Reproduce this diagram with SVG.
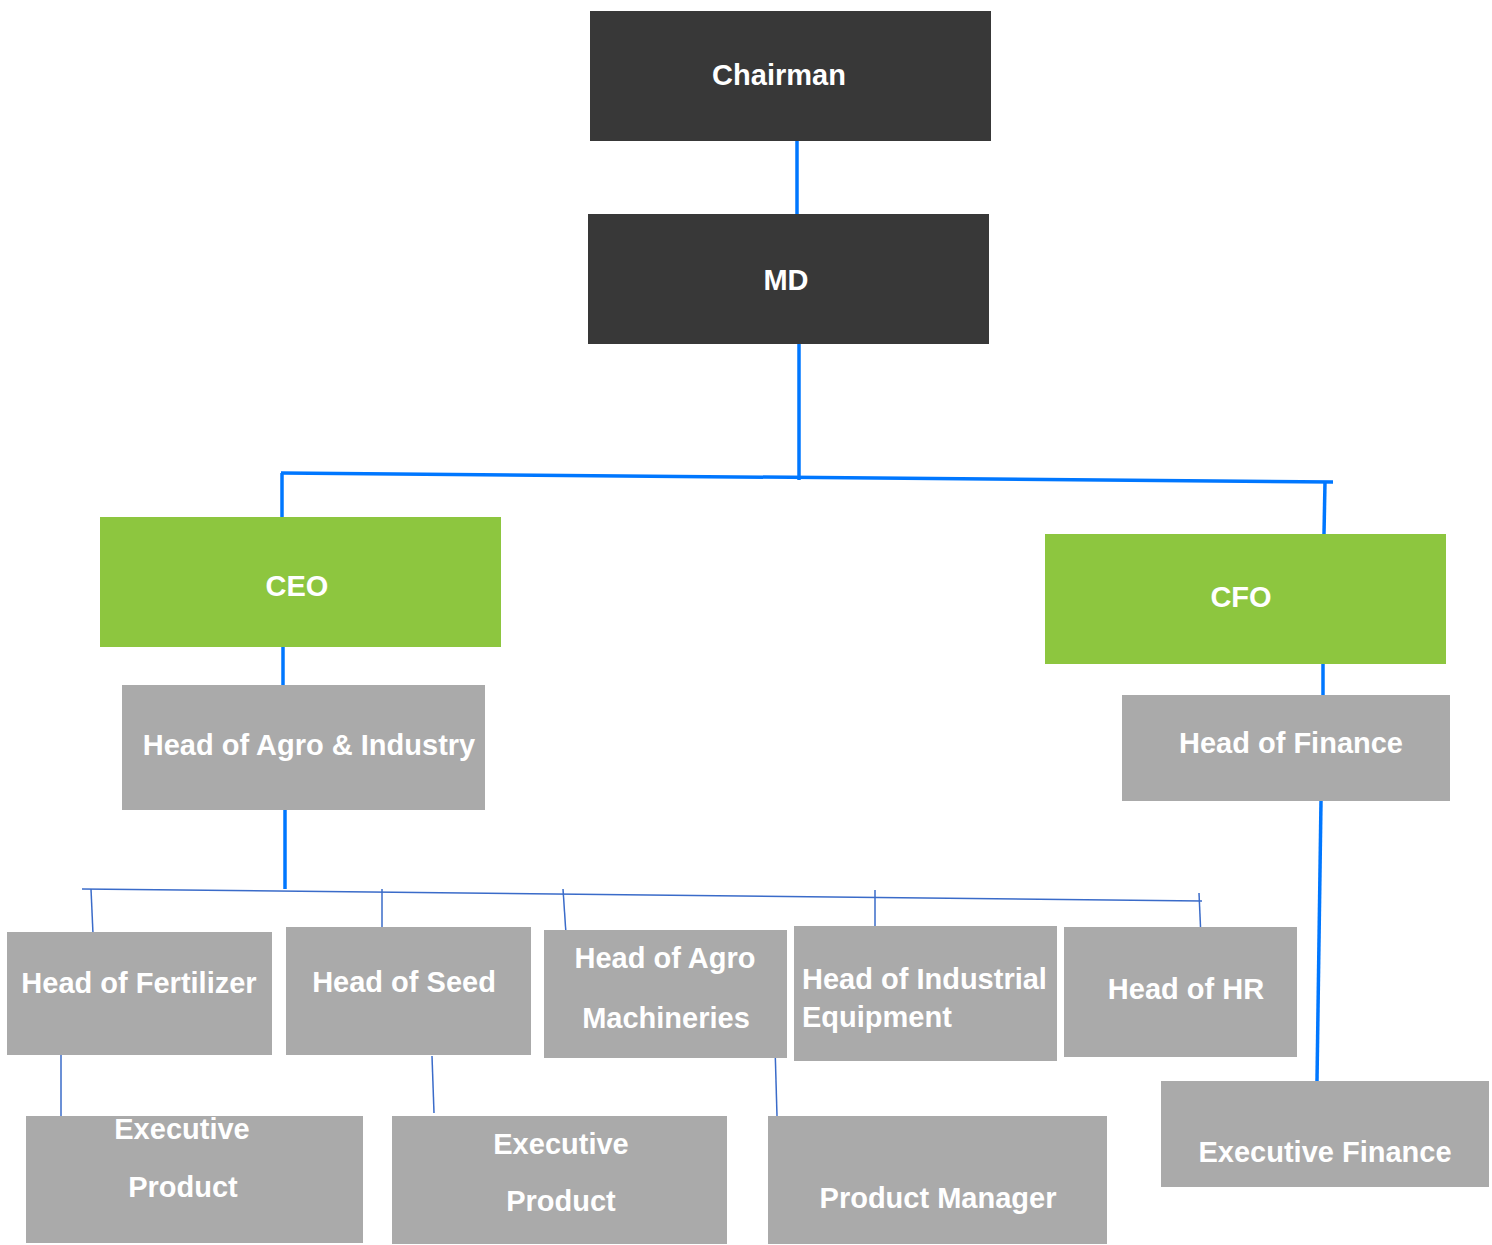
<svg xmlns="http://www.w3.org/2000/svg" width="1492" height="1245" viewBox="0 0 1492 1245">
<style>
.dark{fill:#383838}
.green{fill:#8dc63f}
.gray{fill:#aaaaaa}
text{font-family:"Liberation Sans",Arial,sans-serif;font-weight:bold;font-size:29px;fill:#ffffff;text-anchor:middle}
.left{text-anchor:start}
.thick{stroke:#0077ff;stroke-width:3.5;fill:none}
.thin{stroke:#3a6bc9;stroke-width:1.5;fill:none}
</style>
<rect width="1492" height="1245" fill="#ffffff"/>
<g id="connectors">
<line class="thick" x1="797" y1="141" x2="797" y2="214"/>
<line class="thick" x1="799" y1="344" x2="799" y2="480"/>
<line class="thick" x1="281" y1="473" x2="1333" y2="482" stroke-width="4"/>
<line class="thick" x1="282" y1="473" x2="282" y2="517"/>
<line class="thick" x1="1325" y1="482" x2="1324" y2="534"/>
<line class="thick" x1="283" y1="647" x2="283" y2="685"/>
<line class="thick" x1="1323" y1="664" x2="1323" y2="695"/>
<line class="thick" x1="1321" y1="801" x2="1317" y2="1081"/>
<line class="thick" x1="285" y1="810" x2="285" y2="889"/>
<line class="thin" x1="82" y1="889" x2="1202" y2="901"/>
<line class="thin" x1="91" y1="889" x2="93" y2="934"/>
<line class="thin" x1="382" y1="889" x2="382" y2="932"/>
<line class="thin" x1="563" y1="889" x2="566" y2="934"/>
<line class="thin" x1="875" y1="890" x2="875" y2="939"/>
<line class="thin" x1="1199" y1="893" x2="1201" y2="938"/>
<line class="thin" x1="61" y1="1050" x2="61" y2="1116"/>
<line class="thin" x1="432" y1="1056" x2="434" y2="1113"/>
<line class="thin" x1="775" y1="1046" x2="777" y2="1116"/>
</g>
<g id="chairman"><rect class="dark" x="590" y="11" width="401" height="130"/><text x="779" y="85">Chairman</text></g>
<g id="md"><rect class="dark" x="588" y="214" width="401" height="130"/><text x="786" y="290">MD</text></g>
<g id="ceo"><rect class="green" x="100" y="517" width="401" height="130"/><text x="297" y="596">CEO</text></g>
<g id="cfo"><rect class="green" x="1045" y="534" width="401" height="130"/><text x="1241" y="607">CFO</text></g>
<g id="head-agro-industry"><rect class="gray" x="122" y="685" width="363" height="125"/><text x="309" y="755">Head of Agro &amp; Industry</text></g>
<g id="head-finance"><rect class="gray" x="1122" y="695" width="328" height="106"/><text x="1291" y="753">Head of Finance</text></g>
<g id="head-fertilizer"><rect class="gray" x="7" y="932" width="265" height="123"/><text x="139" y="993">Head of Fertilizer</text></g>
<g id="head-seed"><rect class="gray" x="286" y="927" width="245" height="128"/><text x="404" y="992">Head of Seed</text></g>
<g id="head-agro-machineries"><rect class="gray" x="544" y="930" width="243" height="128"/><text x="665" y="968">Head of Agro</text><text x="666" y="1028">Machineries</text></g>
<g id="head-industrial"><rect class="gray" x="794" y="926" width="263" height="135"/><text class="left" x="802" y="989">Head of Industrial</text><text class="left" x="802" y="1027">Equipment</text></g>
<g id="head-hr"><rect class="gray" x="1064" y="927" width="233" height="130"/><text x="1186" y="999">Head of HR</text></g>
<g id="exec-product-1"><rect class="gray" x="26" y="1116" width="337" height="127"/><text x="182" y="1139">Executive</text><text x="183" y="1197">Product</text></g>
<g id="exec-product-2"><rect class="gray" x="392" y="1116" width="335" height="128"/><text x="561" y="1154">Executive</text><text x="561" y="1211">Product</text></g>
<g id="product-manager"><rect class="gray" x="768" y="1116" width="339" height="128"/><text x="938" y="1208">Product Manager</text></g>
<g id="exec-finance"><rect class="gray" x="1161" y="1081" width="328" height="106"/><text x="1325" y="1162">Executive Finance</text></g>
</svg>
